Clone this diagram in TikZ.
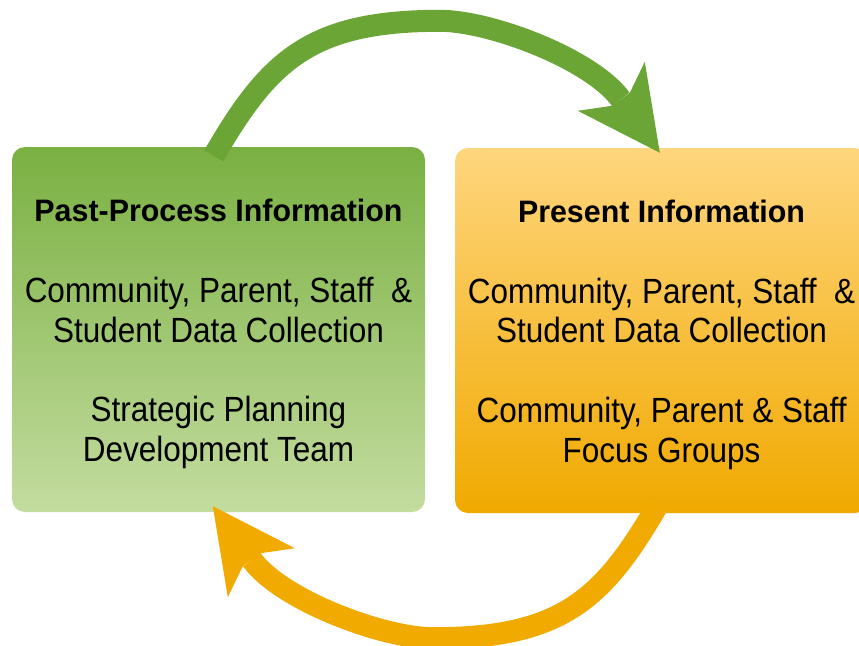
\documentclass[tikz,border=0pt]{standalone}
\usepackage{fontspec}
\setmainfont{Liberation Sans}
\newfontfamily\bodyfont{Liberation Sans}[FakeStretch=0.9]
\newfontfamily\headfont{Liberation Sans}[FakeStretch=0.98]
\usetikzlibrary{calc}

\definecolor{pastTop}{HTML}{7AB042}
\definecolor{pastBottom}{HTML}{C3DC9F}
\definecolor{presTop}{HTML}{FFD67E}
\definecolor{presBottom}{HTML}{F0A900}
\definecolor{greenArrow}{HTML}{6BA535}
\definecolor{orangeArrow}{HTML}{F0AA00}

\begin{document}
\begin{tikzpicture}[x=1pt,y=-1pt,
  infobox/.style={rounded corners=13pt, minimum width=413pt, minimum height=365pt,
                  inner sep=0pt, draw=none},
  headline/.style={anchor=base, inner sep=0pt,
                   font=\headfont\bfseries\fontsize{31}{36}\selectfont},
  bodyline/.style={anchor=base, inner sep=0pt,
                   font=\bodyfont\fontsize{35}{40}\selectfont},
  shaft/.style={line width=22pt, line cap=butt},
]
\useasboundingbox (0,0) rectangle (859,645);

% the two information boxes
\node[infobox, top color=pastTop, bottom color=pastBottom] (past) at (218.5,329.5) {};
\node[infobox, top color=presTop, bottom color=presBottom] (pres) at (661.5,330.5) {};

% green arrow: past -> present
\coordinate (gS) at ($(past.north west)+(202,9)$);
\coordinate (gT) at ($(past.north east)!0.5!(pres.north west)+(0,-126.5)$);
\coordinate (gE) at ($(pres.north west)+(166,-48.5)$);
\coordinate (gTip) at ($(pres.north west)+(205,5)$);
\draw[shaft, greenArrow] (gS) .. controls +(55,-95) and +(-130,0) .. (gT)
                              .. controls +(50,0) and +(-29.5,-40.5) .. (gE);
\fill[greenArrow] (gTip) -- ++(-15,-91) -- ++(-15,31) -- ++(-18,13) -- ++(-34,5) -- cycle;

% orange arrow: present -> past
\coordinate (oS) at ($(pres.south west)+(204,-10)$);
\coordinate (oT) at ($(past.south east)+(8,126)$);
\coordinate (oE) at ($(past.south west)+(240,47.5)$);
\coordinate (oTip) at ($(past.south west)+(201,-6)$);
\draw[shaft, orangeArrow] (oS) .. controls +(-55,95) and +(130,0) .. (oT)
                               .. controls +(-50,0) and +(29.5,40.5) .. (oE);
\fill[orangeArrow] (oTip) -- ++(15,91) -- ++(15,-31) -- ++(18,-13) -- ++(34,-5) -- cycle;

% texts of the past box
\node[headline] (pastHead) at ($(past.north)+(0,75)$) {Past-Process Information};
\node[bodyline] (pastA1) at ($(past.north)+(0,156)$) {Community, Parent, Staff~~\&};
\node[bodyline] (pastA2) at ($(past.north)+(0,195.5)$) {Student Data Collection};
\node[bodyline] (pastB1) at ($(past.north)+(0,274.5)$) {Strategic Planning};
\node[bodyline] (pastB2) at ($(past.north)+(0,314.5)$) {Development Team};

% texts of the present box
\node[headline] (presHead) at ($(pres.north)+(0,75)$) {Present Information};
\node[bodyline] (presA1) at ($(pres.north)+(0,155.5)$) {Community, Parent, Staff~~\&};
\node[bodyline] (presA2) at ($(pres.north)+(0,195)$) {Student Data Collection};
\node[bodyline] (presB1) at ($(pres.north)+(0,274.5)$) {Community, Parent \& Staff};
\node[bodyline] (presB2) at ($(pres.north)+(0,314.5)$) {Focus Groups};
\end{tikzpicture}
\end{document}
